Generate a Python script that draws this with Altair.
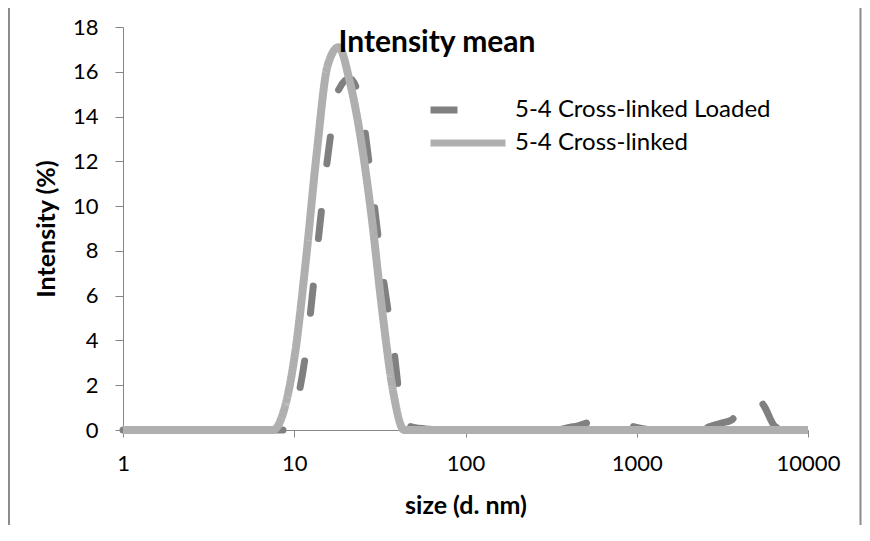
import altair as alt
import pandas as pd

# DLS size bins (d. nm)
sizes = [0.9649, 1.117, 1.294, 1.499, 1.736, 2.010, 2.328, 2.696, 3.122, 3.615,
         4.187, 4.849, 5.615, 6.503, 7.531, 8.721, 10.10, 11.70, 13.54, 15.69,
         18.17, 21.04, 24.36, 28.21, 32.67, 37.84, 43.82, 50.75, 58.77, 68.06,
         78.82, 91.28, 105.7, 122.4, 141.8, 164.2, 190.1, 220.2, 255.0, 295.3,
         342.0, 396.1, 458.7, 531.2, 615.1, 712.4, 825.0, 955.4, 1106, 1281,
         1484, 1718, 1990, 2305, 2669, 3091, 3580, 4145, 4801, 5560,
         6439, 7456, 8635, 10000]

loaded = [0, 0, 0, 0, 0, 0, 0, 0, 0, 0,
          0, 0, 0, 0, 0, 0, 0.9, 3.5, 7.9, 12.2,
          15.2, 15.7, 14.6, 11.1, 7.1, 3.8, 0.3, 0.1, 0.05, 0,
          0, 0, 0, 0, 0, 0, 0, 0, 0, 0,
          0, 0.1, 0.2, 0.35, 0.45, 0.4, 0.3, 0.15, 0.05, 0,
          0, 0, 0, 0.02, 0.15, 0.3, 0.45, 1.1, 1.65, 1.05,
          0.15, 0, 0, 0]

crosslinked = [0, 0, 0, 0, 0, 0, 0, 0, 0, 0,
               0, 0, 0, 0, 0, 0.9, 3.4, 7.6, 12.4, 16.3,
               17.1, 15.6, 13.1, 9.6, 5.3, 1.7, 0, 0, 0, 0,
               0, 0, 0, 0, 0, 0, 0, 0, 0, 0,
               0, 0, 0, 0, 0, 0, 0, 0, 0, 0,
               0, 0, 0, 0, 0, 0, 0, 0, 0, 0,
               0, 0, 0, 0]

series_names = ["5-4 Cross-linked Loaded", "5-4 Cross-linked"]
chart_title = "Intensity mean"
x_ticks = [1, 10, 100, 1000, 10000]
y_ticks = [0, 2, 4, 6, 8, 10, 12, 14, 16, 18]

rows = []
for s, v in zip(sizes, loaded):
    rows.append({"size": s, "intensity": v, "series": series_names[0]})
for s, v in zip(sizes, crosslinked):
    rows.append({"size": s, "intensity": v, "series": series_names[1]})
df = pd.DataFrame(rows)

FONT = "Lato"
# long horizontal stroke symbol (3x the unit box), size 625 -> radius 12.5 -> 75 px long
legend = alt.Legend(title=None, orient="none", legendX=329, legendY=67,
                    direction="vertical", symbolType="M-3,0H3", symbolSize=625,
                    symbolStrokeWidth=7, symbolFillColor="transparent",
                    labelFont=FONT, labelFontSize=24,
                    labelColor="black", labelOffset=31, labelLimit=500,
                    rowPadding=3, padding=0)

color = alt.Color("series:N", scale=alt.Scale(domain=series_names, range=["#808080", "#AFAFAF"]),
                  legend=legend)
dash = alt.StrokeDash("series:N", scale=alt.Scale(domain=series_names, range=[[27, 48], [1, 0]]),
                      legend=legend)

x = alt.X("size:Q", scale=alt.Scale(type="log", domain=[1, 10000], clamp=True),
          axis=alt.Axis(values=x_ticks, format=".0f", title="size (d. nm)", labelFlush=False,
                        tickSize=7, labelPadding=16, titleY=75, titleBaseline="middle"))
y = alt.Y("intensity:Q", scale=alt.Scale(domain=[0, 18]),
          axis=alt.Axis(values=y_ticks, title="Intensity (%)", tickSize=8, labelPadding=17,
                        labelFlush=False, titleX=-77, titleY=201.5, titleBaseline="middle"))

base = alt.Chart(df).encode(x=x, y=y, color=color, strokeDash=dash)

dashed = base.transform_filter(alt.datum.series == series_names[0]).mark_line(
    strokeWidth=7, strokeCap="round", strokeJoin="round", interpolate="monotone",
    strokeDashOffset=17)
solid = base.transform_filter(alt.datum.series == series_names[1]).mark_line(
    strokeWidth=8, strokeJoin="round", interpolate="monotone")

frame_df = pd.DataFrame({"label": [chart_title]})
title_text = alt.Chart(frame_df).mark_text(
    font=FONT, fontSize=30, fontWeight="bold", color="black", baseline="middle", align="center"
).encode(text="label:N", x=alt.value(314), y=alt.value(16))

left_border = alt.Chart(frame_df).mark_rule(color="#8C8C8C", strokeWidth=2).encode(
    x=alt.value(-114), y=alt.value(-19), y2=alt.value(498))
right_border = alt.Chart(frame_df).mark_rule(color="#8C8C8C", strokeWidth=2).encode(
    x=alt.value(737.5), y=alt.value(-19), y2=alt.value(498))

chart = alt.layer(dashed, solid, title_text, left_border, right_border).properties(
    width=685, height=403,
    autosize=alt.AutoSizeParams(type="none"),
    padding={"left": 115, "top": 19, "right": 54, "bottom": 95},
).configure_view(stroke=None).configure_axis(
    grid=False, domainColor="#868686", tickColor="#868686", domainWidth=1, tickWidth=1,
    labelFont=FONT, labelFontSize=22, labelColor="black",
    titleFont=FONT, titleFontSize=25, titleFontWeight="bold", titleColor="black",
)

chart.save("out.html", embed_options={"renderer": "svg", "actions": False})
